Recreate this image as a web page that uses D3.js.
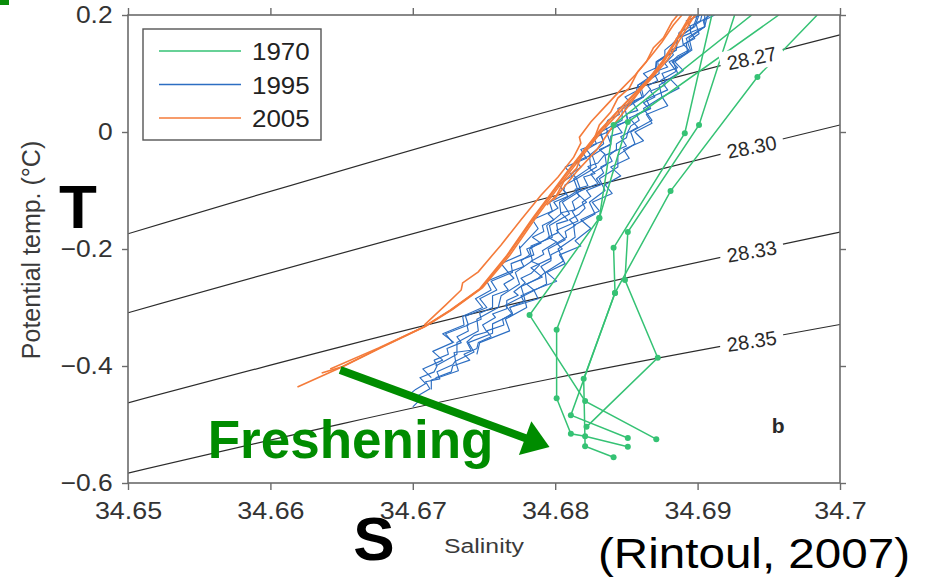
<!DOCTYPE html>
<html>
<head>
<meta charset="utf-8">
<script src="https://cdn.jsdelivr.net/npm/d3@7"></script>
<style>
body { margin: 0; background: #fff; }
svg { display: block; font-family: "Liberation Sans", Arial, sans-serif; }
</style>
</head>
<body>
<svg id="chart" width="928" height="579"></svg>
<script>
// axis ticks
const xTicks = [34.65, 34.66, 34.67, 34.68, 34.69, 34.70];
const yTicks = [0.2, 0, -0.2, -0.4, -0.6];

// legend
const years = ["1970", "1995", "2005"];

// isopycnals (sigma) given as T at three salinities
const isoLabels = ["28.27", "28.30", "28.33", "28.35"];
const isoSalinity = [34.65, 34.68, 34.70];
const isoTemps = [
    [-0.174, 0.0385, 0.166],
    [-0.309, -0.109, 0.012],
    [-0.463, -0.277, -0.171],
    [-0.583, -0.4205, -0.329]
];
const isoLabelSalinity = 34.6938;

// 1970 stations, [salinity, temp]
const profiles1970 = [
    [[34.6841,-0.556],[34.6821,-0.537],[34.6820,-0.422],[34.6842,-0.275],[34.6881,-0.101],[34.6942,0.094],[34.6984,0.200]],
    [[34.6851,-0.538],[34.6821,-0.520],[34.6811,-0.516],[34.6801,-0.455],[34.6801,-0.338],[34.6831,-0.147],[34.6851,0.017],[34.6957,0.200]],
    [[34.6871,-0.525],[34.6821,-0.460],[34.6782,-0.313],[34.6831,-0.147],[34.6841,0.012],[34.6938,0.200]],
    [[34.6851,-0.523],[34.6811,-0.484],[34.6842,-0.275],[34.6841,-0.198],[34.6891,-0.002],[34.6910,0.200]],
    [[34.6822,-0.504],[34.6872,-0.386],[34.6849,-0.253],[34.6851,-0.171],[34.6901,0.012],[34.6926,0.200]]
];

// 1995 profiles
const profiles1995 = [
    [[34.6700,-0.470],[34.6705,-0.458],[34.6702,-0.453],[34.6712,-0.439],[34.6709,-0.427],[34.6719,-0.422],[34.6717,-0.410],[34.6728,-0.398],[34.6730,-0.391],[34.6729,-0.377],[34.6741,-0.373],[34.6738,-0.359],[34.6743,-0.348],[34.6752,-0.342],[34.6749,-0.330],[34.6758,-0.317],[34.6756,-0.311],[34.6766,-0.302],[34.6766,-0.288],[34.6774,-0.279],[34.6771,-0.273],[34.6779,-0.258],[34.6776,-0.250],[34.6783,-0.242],[34.6789,-0.227],[34.6783,-0.221],[34.6792,-0.209],[34.6791,-0.203],[34.6801,-0.188],[34.6795,-0.180],[34.6802,-0.172],[34.6801,-0.157],[34.6809,-0.151],[34.6804,-0.138],[34.6814,-0.133],[34.6812,-0.119],[34.6817,-0.110],[34.6814,-0.098],[34.6823,-0.092],[34.6820,-0.077],[34.6828,-0.071],[34.6823,-0.059],[34.6830,-0.053],[34.6835,-0.038],[34.6831,-0.030],[34.6839,-0.022],[34.6839,-0.007],[34.6847,-0.001],[34.6843,0.012],[34.6851,0.018],[34.6850,0.031],[34.6858,0.037],[34.6854,0.052],[34.6862,0.060],[34.6867,0.073],[34.6865,0.079],[34.6872,0.088],[34.6869,0.102],[34.6879,0.111],[34.6877,0.117],[34.6883,0.132],[34.6881,0.140],[34.6890,0.148],[34.6889,0.163],[34.6895,0.169],[34.6895,0.181],[34.6902,0.190],[34.6903,0.200]],
    [[34.6697,-0.45],[34.6702,-0.44],[34.6709,-0.43],[34.6705,-0.42],[34.6715,-0.41],[34.6717,-0.40],[34.6715,-0.39],[34.6725,-0.38],[34.6724,-0.37],[34.6734,-0.36],[34.6731,-0.35],[34.6739,-0.34],[34.6738,-0.33],[34.6748,-0.32],[34.6747,-0.31],[34.6756,-0.30],[34.6756,-0.29],[34.6756,-0.28],[34.6767,-0.27],[34.6764,-0.26],[34.6771,-0.25],[34.6767,-0.24],[34.6778,-0.23],[34.6776,-0.22],[34.6782,-0.21],[34.6780,-0.20],[34.6790,-0.19],[34.6784,-0.18],[34.6792,-0.17],[34.6791,-0.16],[34.6799,-0.15],[34.6795,-0.14],[34.6802,-0.13],[34.6799,-0.12],[34.6809,-0.11],[34.6806,-0.10],[34.6807,-0.09],[34.6815,-0.08],[34.6812,-0.07],[34.6818,-0.06],[34.6815,-0.05],[34.6825,-0.04],[34.6822,-0.03],[34.6829,-0.02],[34.6827,-0.01],[34.6837,0.00],[34.6835,0.01],[34.6837,0.02],[34.6845,0.03],[34.6844,0.04],[34.6853,0.05],[34.6849,0.06],[34.6857,0.07],[34.6858,0.08],[34.6866,0.09],[34.6862,0.10],[34.6871,0.11],[34.6871,0.12],[34.6877,0.13],[34.6877,0.14],[34.6882,0.15],[34.6886,0.16],[34.6887,0.17],[34.6895,0.18],[34.6892,0.19],[34.6902,0.20]],
    [[34.6716,-0.42],[34.6727,-0.41],[34.6728,-0.40],[34.6740,-0.39],[34.6736,-0.38],[34.6745,-0.37],[34.6746,-0.36],[34.6755,-0.35],[34.6752,-0.34],[34.6764,-0.33],[34.6763,-0.32],[34.6770,-0.31],[34.6768,-0.30],[34.6778,-0.29],[34.6776,-0.28],[34.6785,-0.27],[34.6780,-0.26],[34.6788,-0.25],[34.6793,-0.24],[34.6790,-0.23],[34.6797,-0.22],[34.6797,-0.21],[34.6805,-0.20],[34.6801,-0.19],[34.6808,-0.18],[34.6807,-0.17],[34.6814,-0.16],[34.6810,-0.15],[34.6817,-0.14],[34.6821,-0.13],[34.6819,-0.12],[34.6825,-0.11],[34.6822,-0.10],[34.6832,-0.09],[34.6829,-0.08],[34.6834,-0.07],[34.6832,-0.06],[34.6840,-0.05],[34.6838,-0.04],[34.6843,-0.03],[34.6843,-0.02],[34.6850,-0.01],[34.6851,0.00],[34.6853,0.01],[34.6859,0.02],[34.6857,0.03],[34.6866,0.04],[34.6862,0.05],[34.6870,0.06],[34.6867,0.07],[34.6877,0.08],[34.6877,0.09],[34.6875,0.10],[34.6886,0.11],[34.6882,0.12],[34.6886,0.13],[34.6894,0.14],[34.6890,0.15],[34.6898,0.16],[34.6895,0.17],[34.6905,0.18],[34.6904,0.19],[34.6912,0.20]],
    [[34.6745,-0.38],[34.6747,-0.36],[34.6768,-0.34],[34.6765,-0.32],[34.6780,-0.30],[34.6778,-0.28],[34.6794,-0.26],[34.6793,-0.24],[34.6806,-0.22],[34.6802,-0.20],[34.6814,-0.18],[34.6813,-0.16],[34.6828,-0.14],[34.6824,-0.12],[34.6835,-0.10],[34.6831,-0.08],[34.6844,-0.06],[34.6844,-0.04],[34.6856,-0.02],[34.6853,0.00],[34.6868,0.02],[34.6862,0.04],[34.6875,0.06],[34.6873,0.08],[34.6886,0.10],[34.6883,0.12],[34.6895,0.14],[34.6892,0.16],[34.6905,0.18],[34.6905,0.20]],
    [[34.6716,-0.40],[34.6731,-0.38],[34.6731,-0.36],[34.6746,-0.34],[34.6745,-0.32],[34.6760,-0.30],[34.6762,-0.28],[34.6775,-0.26],[34.6772,-0.24],[34.6784,-0.22],[34.6782,-0.20],[34.6796,-0.18],[34.6794,-0.16],[34.6804,-0.14],[34.6803,-0.12],[34.6816,-0.10],[34.6813,-0.08],[34.6825,-0.06],[34.6824,-0.04],[34.6834,-0.02],[34.6832,0.00],[34.6847,0.02],[34.6847,0.04],[34.6861,0.06],[34.6858,0.08],[34.6870,0.10],[34.6871,0.12],[34.6885,0.14],[34.6886,0.16],[34.6897,0.18],[34.6900,0.20]],
    [[34.6729,-0.36],[34.6721,-0.345],[34.6736,-0.33],[34.6735,-0.315],[34.6749,-0.30],[34.6744,-0.285],[34.6755,-0.27],[34.6752,-0.255],[34.6767,-0.24],[34.6762,-0.225],[34.6776,-0.21],[34.6775,-0.195],[34.6775,-0.199],[34.6788,-0.165],[34.6784,-0.15],[34.6798,-0.135],[34.6796,-0.12],[34.6808,-0.105],[34.6802,-0.09],[34.6812,-0.075],[34.6807,-0.06],[34.6822,-0.045],[34.6818,-0.03],[34.6834,-0.015],[34.6831,0.0]],
    [[34.6768,-0.30],[34.6788,-0.285],[34.6785,-0.27],[34.6801,-0.255],[34.6794,-0.24],[34.6807,-0.225],[34.6803,-0.21],[34.6818,-0.195],[34.6814,-0.186],[34.6825,-0.165],[34.6818,-0.15],[34.6831,-0.135],[34.6826,-0.12],[34.6840,-0.105],[34.6835,-0.09],[34.6846,-0.075],[34.6839,-0.06],[34.6852,-0.045],[34.6848,-0.03],[34.6862,-0.015],[34.6856,0.0],[34.6868,0.015],[34.6864,0.03],[34.6879,0.045],[34.6875,0.06],[34.6887,0.075],[34.6881,0.09],[34.6890,0.105],[34.6884,0.12],[34.6896,0.14],[34.6894,0.16],[34.6905,0.18],[34.6907,0.20]],
    [[34.6713,-0.44],[34.6713,-0.424],[34.6732,-0.408],[34.6730,-0.392],[34.6743,-0.376],[34.6739,-0.36],[34.6756,-0.344],[34.6756,-0.328],[34.6770,-0.312],[34.6765,-0.296],[34.6778,-0.28],[34.6776,-0.264],[34.6791,-0.248],[34.6783,-0.232],[34.6797,-0.216],[34.6795,-0.2],[34.6807,-0.184],[34.6801,-0.168],[34.6816,-0.152],[34.6812,-0.136],[34.6822,-0.12],[34.6815,-0.104],[34.6830,-0.088],[34.6825,-0.072],[34.6836,-0.056],[34.6835,-0.04],[34.6850,-0.024],[34.6846,-0.008],[34.6858,0.008],[34.6852,0.024],[34.6867,0.04],[34.6864,0.056],[34.6879,0.072],[34.6874,0.088],[34.6885,0.104],[34.6880,0.12],[34.6893,0.136],[34.6892,0.152],[34.6901,0.168],[34.6899,0.184],[34.6909,0.2]],
    [[34.6713,-0.42],[34.6707,-0.405],[34.6721,-0.39],[34.6714,-0.375],[34.6728,-0.36],[34.6723,-0.345],[34.6739,-0.33],[34.6737,-0.315],[34.6752,-0.30],[34.6747,-0.285],[34.6759,-0.27],[34.6755,-0.255],[34.6770,-0.24],[34.6769,-0.225],[34.6785,-0.21],[34.6783,-0.195],[34.6798,-0.18],[34.6796,-0.16],[34.6810,-0.14],[34.6805,-0.12],[34.6818,-0.10],[34.6815,-0.08],[34.6829,-0.06],[34.6826,-0.04],[34.6839,-0.02],[34.6836,0.00],[34.6851,0.02],[34.6849,0.04],[34.6862,0.06],[34.6860,0.08],[34.6873,0.10],[34.6872,0.12],[34.6885,0.14],[34.6885,0.16],[34.6898,0.18],[34.6901,0.20]]
];

// 2005 profiles
const profiles2005 = [
    [[34.6619,-0.436],[34.6649,-0.403],[34.6677,-0.369],[34.6708,-0.333],[34.6727,-0.304],[34.6748,-0.267],[34.6767,-0.210],[34.6785,-0.147],[34.6809,-0.068],[34.6832,0.003],[34.6846,0.041],[34.6866,0.089],[34.6877,0.123],[34.6896,0.200]],
    [[34.6636,-0.412],[34.6651,-0.401],[34.6679,-0.367],[34.6709,-0.332],[34.6728,-0.303],[34.6749,-0.266],[34.6768,-0.211],[34.6786,-0.148],[34.6810,-0.069],[34.6833,0.002],[34.6848,0.041],[34.6867,0.090],[34.6879,0.124],[34.6898,0.200]],
    [[34.6642,-0.405],[34.6676,-0.369],[34.6707,-0.334],[34.6726,-0.305],[34.6747,-0.268],[34.6766,-0.211],[34.6784,-0.148],[34.6808,-0.069],[34.6831,0.002],[34.6845,0.039],[34.6864,0.087],[34.6876,0.121],[34.6895,0.200]],
    [[34.6708,-0.330],[34.6723,-0.296],[34.6734,-0.270],[34.6735,-0.258],[34.6746,-0.239],[34.6762,-0.193],[34.6776,-0.150],[34.6790,-0.108],[34.6802,-0.077],[34.6813,-0.043],[34.6818,-0.019],[34.6817,-0.009],[34.6825,0.017],[34.6836,0.046],[34.6846,0.072],[34.6856,0.097],[34.6866,0.126],[34.6875,0.154],[34.6883,0.183],[34.6889,0.200]],
    [[34.6794,-0.125],[34.6801,-0.108],[34.6806,-0.085],[34.6815,-0.062],[34.6820,-0.031],[34.6827,-0.014],[34.6831,0.012],[34.6839,0.034],[34.6844,0.058],[34.6852,0.075],[34.6858,0.103],[34.6864,0.120],[34.6869,0.144],[34.6876,0.161],[34.6882,0.188],[34.6886,0.200]],
    [[34.6799,-0.116],[34.6815,-0.068],[34.6829,-0.031],[34.6841,0.012],[34.6852,0.046],[34.6864,0.085],[34.6875,0.120],[34.6884,0.154],[34.6892,0.183],[34.6899,0.200]]
];

// annotation anchors in data units
const arrowFrom = [34.6649, -0.407];
const arrowTo = [34.6796, -0.5385];
const freshAt = [34.6556, -0.557];
const panelAt = [34.6952, -0.5145];

const colors = { "1970": "#35c274", "1995": "#2c6ec2", "2005": "#f47b3a" };

const svg = d3.select("#chart");

const x = d3.scaleLinear().domain([34.65, 34.70]).range([128, 840]);
const y = d3.scaleLinear().domain([-0.6, 0.2]).range([483, 15]);

svg.append("rect").attr("width", 928).attr("height", 579).attr("fill", "#fff");

// leftover green corner from the slide
svg.append("rect").attr("x", 0).attr("y", 0).attr("width", 9).attr("height", 5).attr("fill", "#0a8c0a");

svg.append("defs").append("clipPath")
    .attr("id", "plotClip")
    .append("rect")
    .attr("x", 128).attr("y", 15)
    .attr("width", 712).attr("height", 468);

const plot = svg.append("g").attr("clip-path", "url(#plotClip)");

const line = d3.line()
    .x(d => x(d[0]))
    .y(d => y(d[1]));

// isopycnals
const isoLine = d3.line()
    .x(d => x(d[0]))
    .y(d => y(d[1]))
    .curve(d3.curveMonotoneX);

isoTemps.forEach(temps => {
    plot.append("path")
        .datum(temps.map((t, i) => [isoSalinity[i], t]))
        .attr("d", isoLine)
        .attr("fill", "none")
        .attr("stroke", "#2b2b2b")
        .attr("stroke-width", 1.2);
});

// 1995 (noisy CTD casts)
profiles1995.forEach(p => {
    plot.append("path")
        .datum(p)
        .attr("d", line)
        .attr("fill", "none")
        .attr("stroke", colors["1995"])
        .attr("stroke-width", 1.15)
        .attr("stroke-linejoin", "round");
});

// 2005
profiles2005.forEach(p => {
    plot.append("path")
        .datum(p)
        .attr("d", line)
        .attr("fill", "none")
        .attr("stroke", colors["2005"])
        .attr("stroke-width", 1.6);
});

// 1970 bottle stations
profiles1970.forEach(p => {
    plot.append("path")
        .datum(p)
        .attr("d", line)
        .attr("fill", "none")
        .attr("stroke", colors["1970"])
        .attr("stroke-width", 1.5);

    plot.selectAll(null)
        .data(p.filter(d => d[1] < 0.19))
        .enter()
        .append("circle")
        .attr("cx", d => x(d[0]))
        .attr("cy", d => y(d[1]))
        .attr("r", 3)
        .attr("fill", colors["1970"]);
});

// isopycnal labels with white boxes (hide the lines behind them)
isoTemps.forEach((temps, i) => {
    const f = (isoLabelSalinity - isoSalinity[1]) / (isoSalinity[2] - isoSalinity[1]);
    const t = temps[1] + f * (temps[2] - temps[1]);
    const px = x(isoLabelSalinity);
    const py = y(t);
    const ang = Math.atan2(y(temps[2]) - y(temps[1]), x(isoSalinity[2]) - x(isoSalinity[1])) * 180 / Math.PI;

    const g = svg.append("g").attr("transform", `translate(${px},${py}) rotate(${ang * 0.8})`);
    g.append("rect")
        .attr("x", -32).attr("y", -12)
        .attr("width", 64).attr("height", 24)
        .attr("fill", "#fff");
    g.append("text")
        .attr("text-anchor", "middle")
        .attr("dy", "0.36em")
        .attr("fill", "#2a2a2a")
        .style("font-size", "20px")
        .text(isoLabels[i]);
});

// frame
svg.append("rect")
    .attr("x", 128).attr("y", 15)
    .attr("width", 712).attr("height", 468)
    .attr("fill", "none")
    .attr("stroke", "#6b6b6b")
    .attr("stroke-width", 1.6);

const xAxis = svg.append("g")
    .attr("transform", "translate(0,483)")
    .call(d3.axisBottom(x).tickValues(xTicks).tickSize(7).tickPadding(12)
        .tickFormat(d => String(+d.toFixed(2))));

const yAxis = svg.append("g")
    .attr("transform", "translate(128,0)")
    .call(d3.axisLeft(y).tickValues(yTicks).tickSize(6).tickPadding(9)
        .tickFormat(d3.format("~g")));

svg.append("g")
    .attr("transform", "translate(0,15)")
    .call(d3.axisTop(x).tickValues(xTicks).tickSize(7).tickFormat(""));

svg.append("g")
    .attr("transform", "translate(840,0)")
    .call(d3.axisRight(y).tickValues(yTicks).tickSize(6).tickFormat(""));

svg.selectAll(".domain").remove();
svg.selectAll(".tick line").attr("stroke", "#6b6b6b").attr("stroke-width", 1.4);

xAxis.selectAll("text")
    .attr("fill", "#333")
    .style("font-size", "24px")
    .attr("transform", "scale(1.12,1)");

yAxis.selectAll("text")
    .attr("fill", "#333")
    .style("font-size", "24px")
    .attr("x", -14)
    .attr("transform", "scale(1.1,1)");

// axis titles
svg.append("text")
    .attr("transform", "translate(31,250) rotate(-90)")
    .attr("text-anchor", "middle")
    .attr("dy", "0.35em")
    .attr("fill", "#3a3a3a")
    .style("font-size", "25px")
    .text("Potential temp. (°C)");

svg.append("text")
    .attr("transform", "translate(484,553) scale(1.18,1)")
    .attr("text-anchor", "middle")
    .attr("fill", "#3a3a3a")
    .style("font-size", "21px")
    .text("Salinity");

// legend
const legend = svg.append("g");
legend.append("rect")
    .attr("x", 143).attr("y", 29)
    .attr("width", 178).attr("height", 111)
    .attr("fill", "#fff")
    .attr("stroke", "#555")
    .attr("stroke-width", 1.4);

years.forEach((yr, i) => {
    const ly = 51 + i * 33.5;
    legend.append("line")
        .attr("x1", 159).attr("x2", 241)
        .attr("y1", ly).attr("y2", ly)
        .attr("stroke", colors[yr])
        .attr("stroke-width", 1.5);
    legend.append("text")
        .attr("transform", `translate(252,${ly}) scale(1.08,1)`)
        .attr("dy", "0.38em")
        .attr("fill", "#222")
        .style("font-size", "24px")
        .text(yr);
});

// panel letter
svg.append("text")
    .attr("x", x(panelAt[0])).attr("y", y(panelAt[1]))
    .attr("fill", "#2a2a2a")
    .style("font-size", "21px")
    .style("font-weight", "bold")
    .text("b");

// freshening arrow
const ax0 = x(arrowFrom[0]), ay0 = y(arrowFrom[1]);
const ax1 = x(arrowTo[0]), ay1 = y(arrowTo[1]);
const ang = Math.atan2(ay1 - ay0, ax1 - ax0);
const headLen = 26, headHalf = 18;
const bx = ax1 - headLen * Math.cos(ang), by = ay1 - headLen * Math.sin(ang);

svg.append("line")
    .attr("x1", ax0).attr("y1", ay0)
    .attr("x2", bx + 2 * Math.cos(ang)).attr("y2", by + 2 * Math.sin(ang))
    .attr("stroke", "#008c00")
    .attr("stroke-width", 8);

svg.append("polygon")
    .attr("points", [
        [ax1, ay1],
        [bx - headHalf * Math.sin(ang), by + headHalf * Math.cos(ang)],
        [bx + headHalf * Math.sin(ang), by - headHalf * Math.cos(ang)]
    ].map(p => p.join(",")).join(" "))
    .attr("fill", "#008c00");

svg.append("text")
    .attr("x", x(freshAt[0])).attr("y", y(freshAt[1]))
    .attr("fill", "#008c00")
    .style("font-size", "53px")
    .style("font-weight", "bold")
    .text("Freshening");

// slide overlay letters
svg.append("text")
    .attr("x", 78).attr("y", 228)
    .attr("text-anchor", "middle")
    .style("font-size", "62px")
    .style("font-weight", "bold")
    .text("T");

svg.append("text")
    .attr("x", 374).attr("y", 560)
    .attr("text-anchor", "middle")
    .style("font-size", "62px")
    .style("font-weight", "bold")
    .text("S");

svg.append("text")
    .attr("x", 598).attr("y", 568)
    .attr("textLength", 312)
    .attr("lengthAdjust", "spacingAndGlyphs")
    .style("font-size", "42px")
    .text("(Rintoul, 2007)");
</script>
</body>
</html>
